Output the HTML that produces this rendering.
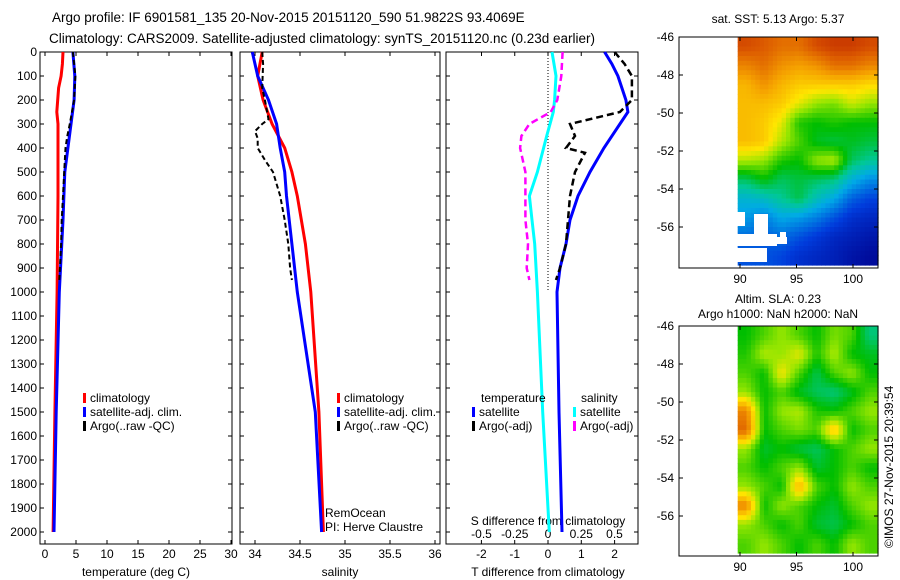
<!DOCTYPE html>
<html><head><meta charset="utf-8">
<style>
body{margin:0;background:#fff;}
svg{display:block;font-family:"Liberation Sans",sans-serif;}
text{font-size:12px;fill:#000;}
</style></head><body>
<svg id="fig" width="900" height="580" viewBox="0 0 900 580" xmlns="http://www.w3.org/2000/svg">
<text x="52" y="22" style="font-size:13.5px">Argo profile: IF 6901581_135 20-Nov-2015 20151120_590 51.9822S 93.4069E</text>
<text x="49" y="43" style="font-size:13.5px">Climatology: CARS2009. Satellite-adjusted climatology: synTS_20151120.nc (0.23d earlier)</text>
<g id="g"></g>
</svg>
<script>
const depthTicks=[0,100,200,300,400,500,600,700,800,900,1000,1100,1200,1300,1400,1500,1600,1700,1800,1900,2000];
const tempTicks=[0,5,10,15,20,25,30];
const salTicks=[34,34.5,35,35.5,36];
const tdTicks=[-2,-1,0,1,2];
const sdTicks=[-0.5,-0.25,0,0.25,0.5];
const sdTickLabels=["-0.5","-0.25","0","0.25","0.5"];
const mapLonTicks=[90,95,100];
const sstLatTicks=[-46,-48,-50,-52,-54,-56];
// temperature profiles [depth, degC]
const tClimD=[0,50,100,150,250,300,400,600,1000,1500,2000];
const tClimV=[2.9,2.8,2.6,2.2,1.9,2.1,2.1,2.1,1.95,1.6,1.3];
const tSatD=[0,100,200,300,500,700,1000,1500,2000];
const tSatV=[4.5,4.8,4.7,4.2,3.2,2.9,2.3,1.8,1.45];
const tArgoD=[0,100,200,300,350,400,500,600,700,800,900,950];
const tArgoV=[4.5,4.9,4.7,4.0,3.6,3.3,3.1,2.9,2.7,2.6,2.4,2.3];
// salinity profiles
const sClimD=[0,100,200,300,400,500,600,800,1000,1500,2000];
const sClimV=[34.08,34.03,34.09,34.19,34.33,34.41,34.47,34.56,34.62,34.71,34.76];
const sSatD=[0,100,200,300,400,500,600,800,1000,1500,2000];
const sSatV=[33.97,34.03,34.15,34.24,34.28,34.33,34.35,34.41,34.47,34.67,34.74];
const sArgoD=[0,50,150,200,280,300,330,360,400,450,500,600,700,800,900,950];
const sArgoV=[34.08,34.09,34.08,34.11,34.15,34.08,34.0,34.03,34.03,34.11,34.2,34.28,34.33,34.37,34.39,34.41];
// difference profiles
const dTSatD=[0,50,100,200,250,300,400,500,600,700,800,900,1000,1500,2000];
const dTSatV=[1.7,1.92,2.1,2.34,2.4,2.16,1.68,1.26,0.9,0.66,0.54,0.36,0.27,0.33,0.42];
const dTArgoD=[0,50,100,200,250,280,300,350,400,420,500,600,800,900,950];
const dTArgoV=[2.0,2.3,2.52,2.52,2.16,1.26,0.66,0.81,0.54,1.11,0.81,0.66,0.54,0.36,0.24];
const dSSatD=[0,100,200,250,350,500,600,700,800,1000,1500,2000];
const dSSatV=[0.03,0.06,0.05,0.04,-0.01,-0.08,-0.14,-0.12,-0.1,-0.08,-0.04,0.01];
const dSArgoD=[0,100,200,250,300,350,400,500,700,800,900,950];
const dSArgoV=[0.11,0.1,0.07,0.02,-0.14,-0.2,-0.21,-0.17,-0.17,-0.15,-0.16,-0.14];
// maps (colormap fraction 0..1), rows north->south
const sstGrid=[
[.9,.88,.85,.85,.9,.92,.92,.9],
[.82,.85,.8,.78,.8,.85,.85,.82],
[.75,.8,.75,.72,.72,.72,.72,.7],
[.74,.74,.72,.66,.6,.58,.64,.6],
[.74,.72,.66,.52,.5,.52,.5,.5],
[.74,.72,.62,.55,.48,.46,.48,.46],
[.62,.6,.52,.5,.6,.62,.44,.4],
[.44,.5,.44,.46,.44,.42,.32,.26],
[.33,.35,.4,.45,.36,.3,.2,.16],
[.28,.24,.3,.28,.24,.18,.12,.1],
[.22,.2,.22,.18,.14,.1,.08,.06],
[.18,.18,.16,.12,.1,.08,.05,.03]];
const slaGrid=[
[.5,.55,.6,.55,.5,.58,.55,.42],
[.52,.62,.6,.66,.52,.62,.5,.48],
[.55,.5,.68,.55,.45,.55,.6,.5],
[.6,.5,.55,.48,.44,.42,.48,.55],
[.82,.5,.6,.62,.52,.5,.55,.6],
[.86,.5,.55,.58,.55,.74,.5,.55],
[.6,.47,.5,.46,.44,.5,.55,.6],
[.55,.5,.55,.6,.47,.5,.55,.5],
[.6,.55,.5,.76,.55,.5,.6,.55],
[.82,.5,.6,.55,.5,.47,.55,.6],
[.6,.55,.5,.55,.47,.45,.5,.55],
[.55,.6,.55,.5,.55,.5,.6,.55]];

const NS="http://www.w3.org/2000/svg";
const G=document.getElementById('g');
function el(t,a,p){const e=document.createElementNS(NS,t);for(const k in a)e.setAttribute(k,a[k]);(p||G).appendChild(e);return e;}
function txt(x,y,s,anchor,p,size){const e=el('text',{x:x,y:y,'text-anchor':anchor||'start'},p);if(size)e.style.fontSize=size+'px';e.textContent=s;return e;}
const PT=52,PB=544;
const yD=d=>PT+d*0.24;
function panel(x0,x1,name){
  const g=el('g',{});
  
  
  el('rect',{x:x0,y:PT,width:x1-x0,height:PB-PT,fill:'none',stroke:'#000','stroke-width':1},g);
  return g;
}
function line(g,D,V,xf,color,w,dash,name){
  const p=D.map((d,i)=>xf(V[i]).toFixed(1)+','+yD(d).toFixed(1)).join(' ');
  const e=el('polyline',{points:p,fill:'none',stroke:color,'stroke-width':w},g);
  if(dash)e.setAttribute('stroke-dasharray',dash);
  
  
}
function yTicks(g,x0,x1,labels){
  depthTicks.forEach(d=>{const y=yD(d);
    el('line',{x1:x0,y1:y,x2:x0+4,y2:y,stroke:'#000'},g);
    el('line',{x1:x1,y1:y,x2:x1-4,y2:y,stroke:'#000'},g);
    if(labels)txt(x0-3,y+4,String(d),'end',g);});
}
function xTicks(g,ticks,xf,labs,ybase,top){
  ticks.forEach((t,i)=>{const x=xf(t);
    el('line',{x1:x,y1:PB,x2:x,y2:PB-4,stroke:'#000'},g);
    if(top!==false)el('line',{x1:x,y1:PT,x2:x,y2:PT+4,stroke:'#000'},g);
    txt(x,ybase,labs?labs[i]:String(t),'middle',g);});
}
function legend(g,x,y,items){
  items.forEach((it,i)=>{const yy=y+i*14;
    el('rect',{x:x,y:yy-9,width:3,height:10,fill:it[1]},g);
    txt(x+7,yy,it[0],'start',g);});
}
// Panel 1 temperature
const xT=v=>45+v*6.2;
let g1=panel(40,232,'temperature-panel');
yTicks(g1,40,232,true);
xTicks(g1,tempTicks,xT,null,558);
txt(136,576,'temperature (deg C)','middle',g1);
line(g1,tClimD,tClimV,xT,'#ff0000',3,null,'temp-climatology-line');
line(g1,tSatD,tSatV,xT,'#0000ff',3,null,'temp-satellite-line');
line(g1,tArgoD,tArgoV,xT,'#000',2,'5,3','temp-argo-line');
legend(g1,83,402,[['climatology','#ff0000'],['satellite-adj. clim.','#0000ff'],['Argo(..raw -QC)','#000']]);
// Panel 2 salinity
const xS=v=>255+(v-34)*90;
let g2=panel(240,440,'salinity-panel');
yTicks(g2,240,440,false);
xTicks(g2,salTicks,xS,null,558);
txt(340,576,'salinity','middle',g2);
line(g2,sClimD,sClimV,xS,'#ff0000',3,null,'sal-climatology-line');
line(g2,sSatD,sSatV,xS,'#0000ff',3,null,'sal-satellite-line');
line(g2,sArgoD,sArgoV,xS,'#000',2,'5,3','sal-argo-line');
legend(g2,337,402,[['climatology','#ff0000'],['satellite-adj. clim.','#0000ff'],['Argo(..raw -QC)','#000']]);
txt(325,517,'RemOcean','start',g2);txt(325,531,'PI: Herve Claustre','start',g2);
// Panel 3 differences
const xTd=v=>548+v*33.3, xSd=v=>548+v*133;
let g3=panel(446,638,'difference-panel');
yTicks(g3,446,638,false);
xTicks(g3,tdTicks,xTd,null,558,false);
sdTicks.forEach((t,i)=>{const x=xSd(t);el('line',{x1:x,y1:PT,x2:x,y2:PT+4,stroke:'#000'},g3);txt(x,538,sdTickLabels[i],'middle',g3);});
txt(548,525,'S difference from climatology','middle',g3);
txt(548,576,'T difference from climatology','middle',g3);
el('line',{x1:548,y1:PT,x2:548,y2:yD(1000),stroke:'#000','stroke-dasharray':'1,2'},g3);
line(g3,dTSatD,dTSatV,xTd,'#0000ff',3,null,'tdiff-satellite-line');
line(g3,dTArgoD,dTArgoV,xTd,'#000',2.5,'7,4','tdiff-argo-line');
line(g3,dSSatD,dSSatV,xSd,'#00ffff',3,null,'sdiff-satellite-line');
line(g3,dSArgoD,dSArgoV,xSd,'#ff00ff',2.5,'7,4','sdiff-argo-line');
txt(481,402,'temperature','start',g3);txt(581,402,'salinity','start',g3);
legend(g3,472,416,[['satellite','#0000ff'],['Argo(-adj)','#000']]);
legend(g3,573,416,[['satellite','#00ffff'],['Argo(-adj)','#ff00ff']]);
// colormap
const cmStops=[[0,0,0,140],[.15,0,60,220],[.3,0,170,230],[.4,0,200,150],[.5,0,190,0],[.6,150,230,0],[.68,255,230,0],[.78,245,160,0],[.88,220,90,0],[1,170,0,0]];
function cmap(v){v=Math.max(0,Math.min(1,v));
  for(let i=1;i<cmStops.length;i++){const a=cmStops[i-1],b=cmStops[i];
    if(v<=b[0]){const f=(v-a[0])/(b[0]-a[0]);
      return 'rgb('+[1,2,3].map(k=>Math.round(a[k]+(b[k]-a[k])*f)).join(',')+')';}}
  return 'rgb(170,0,0)';}
function sample(grid,fy,fx){const R=grid.length,C=grid[0].length;
  const y=Math.max(0,Math.min(R-1,fy)),x=Math.max(0,Math.min(C-1,fx));
  const i=Math.floor(y),j=Math.floor(x),i2=Math.min(R-1,i+1),j2=Math.min(C-1,j+1),a=y-i,b=x-j;
  return grid[i][j]*(1-a)*(1-b)+grid[i][j2]*(1-a)*b+grid[i2][j]*a*(1-b)+grid[i2][j2]*a*b;}
const xLon=v=>740+(v-90)*11.3;
function map(top,bot,grid,name,latTicks){
  const g=el('g',{});
  
  
  const x0=xLon(89.8),x1=878,rows=grid.length,cols=grid[0].length,S=4;
  const cw=(x1-x0)/(cols*S),rh=(bot-top)/(rows*S);
  for(let i=0;i<rows*S;i++)for(let j=0;j<cols*S;j++){
    const v=sample(grid,(i+0.5)/S-0.5,(j+0.5)/S-0.5);
    const c=el('rect',{x:(x0+j*cw).toFixed(1),y:(top+i*rh).toFixed(1),width:(cw+0.6).toFixed(1),height:(rh+0.6).toFixed(1),fill:cmap(v)},g);
    
    
  }
  el('rect',{x:679,y:top,width:199,height:bot+3-top,fill:'none',stroke:'#000'},g);
  mapLonTicks.forEach(l=>{const x=xLon(l);el('line',{x1:x,y1:bot+3,x2:x,y2:bot-1,stroke:'#000'},g);el('line',{x1:x,y1:top,x2:x,y2:top+4,stroke:'#000'},g);txt(x,bot+18,String(l),'middle',g);});
  latTicks.forEach(l=>{const y=top+(-46-l)*19;el('line',{x1:679,y1:y,x2:683,y2:y,stroke:'#000'},g);el('line',{x1:878,y1:y,x2:874,y2:y,stroke:'#000'},g);txt(674,y+4,String(l),'end',g);});
  return g;
}
const gS=map(37,265,sstGrid,'sst-map',sstLatTicks);
[[737,212,8,14],[737,234,40,12],[754,214,14,22],[765,237,22,7],[737,248,30,14],[780,232,6,11]].forEach(r=>{const e=el('rect',{x:r[0],y:r[1],width:r[2],height:r[3],fill:'#fff'},gS);});
txt(778,23,'sat. SST: 5.13 Argo: 5.37','middle',gS);
const gA=map(326,553,slaGrid,'sla-map',sstLatTicks);
txt(778,303,'Altim. SLA: 0.23','middle',gA);txt(778,318,'Argo h1000: NaN h2000: NaN','middle',gA);
const st=txt(0,0,'©IMOS 27-Nov-2015 20:39:54','start',G);
st.setAttribute('transform','translate(893,548) rotate(-90)');


</script>
</body></html>
